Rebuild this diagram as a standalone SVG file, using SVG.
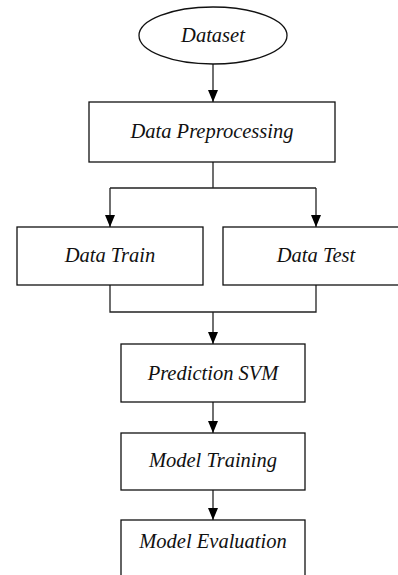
<svg xmlns="http://www.w3.org/2000/svg" width="398" height="575" viewBox="0 0 398 575">
<style>
.n{fill:#fff;stroke:#111;stroke-width:1.3}
.t{font-family:"Liberation Serif","Times New Roman",serif;font-style:italic;font-size:20.5px;fill:#111;text-anchor:middle}
.c{fill:none;stroke:#222;stroke-width:1.3}
.a{marker-end:url(#ah)}
</style>
<defs>
<marker id="ah" viewBox="0 0 12 10" refX="12" refY="5" markerWidth="12" markerHeight="10" markerUnits="userSpaceOnUse" orient="auto">
<path d="M0,0 L12,5 L0,10 Z" fill="#000"/>
</marker>
</defs>
<rect width="398" height="575" fill="#fff"/>
<g id="connectors">
<path class="c a" d="M213,64 V102"/>
<path class="c" d="M213,162 V188 M110,188 H316"/>
<path class="c a" d="M110,188 V227"/>
<path class="c a" d="M316,188 V227"/>
<path class="c" d="M110,285 V312 H316 V285"/>
<path class="c a" d="M213,312 V344"/>
<path class="c a" d="M213,402 V433"/>
<path class="c a" d="M213,490 V520"/>
</g>
<g id="dataset">
<ellipse class="n" cx="213" cy="35.5" rx="74" ry="28.5"/>
<text class="t" x="213" y="42">Dataset</text>
</g>
<g id="preprocessing">
<rect class="n" x="89" y="102" width="246" height="60"/>
<text class="t" x="212" y="138">Data Preprocessing</text>
</g>
<g id="train">
<rect class="n" x="17" y="227" width="186" height="58"/>
<text class="t" x="110" y="262">Data Train</text>
</g>
<g id="test">
<rect class="n" x="223" y="227" width="186" height="58"/>
<text class="t" x="316" y="262">Data Test</text>
</g>
<g id="svm">
<rect class="n" x="121" y="344" width="184" height="58"/>
<text class="t" x="213" y="380">Prediction SVM</text>
</g>
<g id="training">
<rect class="n" x="121" y="433" width="184" height="57"/>
<text class="t" x="213" y="467">Model Training</text>
</g>
<g id="evaluation">
<rect class="n" x="121" y="520" width="184" height="70"/>
<text class="t" x="213" y="548">Model Evaluation</text>
</g>
</svg>
